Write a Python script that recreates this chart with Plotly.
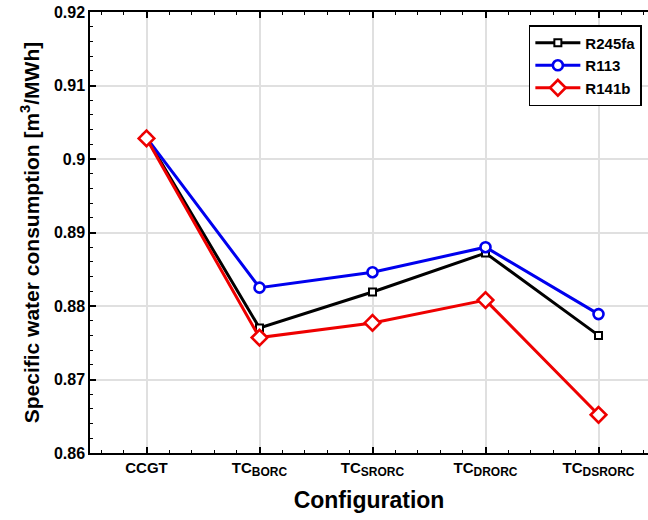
import plotly.graph_objects as go

categories = ["CCGT", "TC<sub><span style='font-size:12px'>BORC</span></sub>",
              "TC<sub><span style='font-size:12px'>SRORC</span></sub>",
              "TC<sub><span style='font-size:12px'>DRORC</span></sub>",
              "TC<sub><span style='font-size:12px'>DSRORC</span></sub>"]
r245fa = [0.9029, 0.8770, 0.8819, 0.8872, 0.8760]
r113 = [0.9029, 0.8825, 0.8846, 0.8880, 0.8789]
r141b = [0.9028, 0.8757, 0.8777, 0.8808, 0.8652]

x = list(range(1, len(categories) + 1))

fig = go.Figure()
fig.add_trace(go.Scatter(x=x, y=r245fa, name="R245fa", mode="lines+markers",
                         line=dict(color="black", width=3),
                         marker=dict(symbol="square", size=7, color="white",
                                     line=dict(color="black", width=2))))
fig.add_trace(go.Scatter(x=x, y=r113, name="R113", mode="lines+markers",
                         line=dict(color="#0000ee", width=3),
                         marker=dict(symbol="circle", size=10, color="white",
                                     line=dict(color="#0000ee", width=2.6))))
fig.add_trace(go.Scatter(x=x, y=r141b, name="R141b", mode="lines+markers",
                         line=dict(color="#ee0000", width=3),
                         marker=dict(symbol="diamond", size=12, color="white",
                                     line=dict(color="#ee0000", width=2.6))))

fig.update_layout(
    width=648, height=520,
    margin=dict(l=90, r=0, t=12, b=67),
    plot_bgcolor="white", paper_bgcolor="white",
    font=dict(family="Liberation Sans, Arial, sans-serif", color="black"),
    legend=dict(x=0.989, y=0.9705, xanchor="right", yanchor="top",
                bgcolor="white", bordercolor="black", borderwidth=1.5,
                font=dict(size=15, weight="bold", color="black"),
                tracegroupgap=0, itemwidth=45),
    xaxis=dict(
        range=[0.5, 5.438], tickvals=x, ticktext=categories,
        showline=True, linecolor="black", linewidth=1.5, mirror="ticks",
        ticks="inside", ticklen=6, tickcolor="black", tickwidth=1.5,
        showgrid=True, gridcolor="#e0e0e0", gridwidth=1.8,
        tickfont=dict(size=15, weight="bold"),
        minor=dict(ticks="inside", dtick=0.2, tick0=0, ticklen=3, tickcolor="black", tickwidth=1.2, showgrid=False),
        title=dict(text="Configuration", font=dict(size=23, weight="bold"), standoff=14),
        zeroline=False,
    ),
    yaxis=dict(
        range=[0.86, 0.92],
        tickvals=[0.86, 0.87, 0.88, 0.89, 0.9, 0.91, 0.92],
        ticktext=["0.86", "0.87", "0.88", "0.89", "0.9", "0.91", "0.92"],
        showline=True, linecolor="black", linewidth=1.5, mirror=False,
        ticks="inside", ticklen=6, tickcolor="black", tickwidth=1.5,
        showgrid=True, gridcolor="#e0e0e0", gridwidth=1.8,
        tickfont=dict(size=16, weight="bold"),
        minor=dict(ticks="inside", dtick=0.002, tick0=0.86, ticklen=3, tickcolor="black", tickwidth=1.2, showgrid=False),
        title=dict(text="Specific water consumption [m<sup>3</sup>/MWh]", font=dict(size=21, weight="bold"), standoff=9),
        zeroline=False,
    ),
)

fig.write_html("out.html")
